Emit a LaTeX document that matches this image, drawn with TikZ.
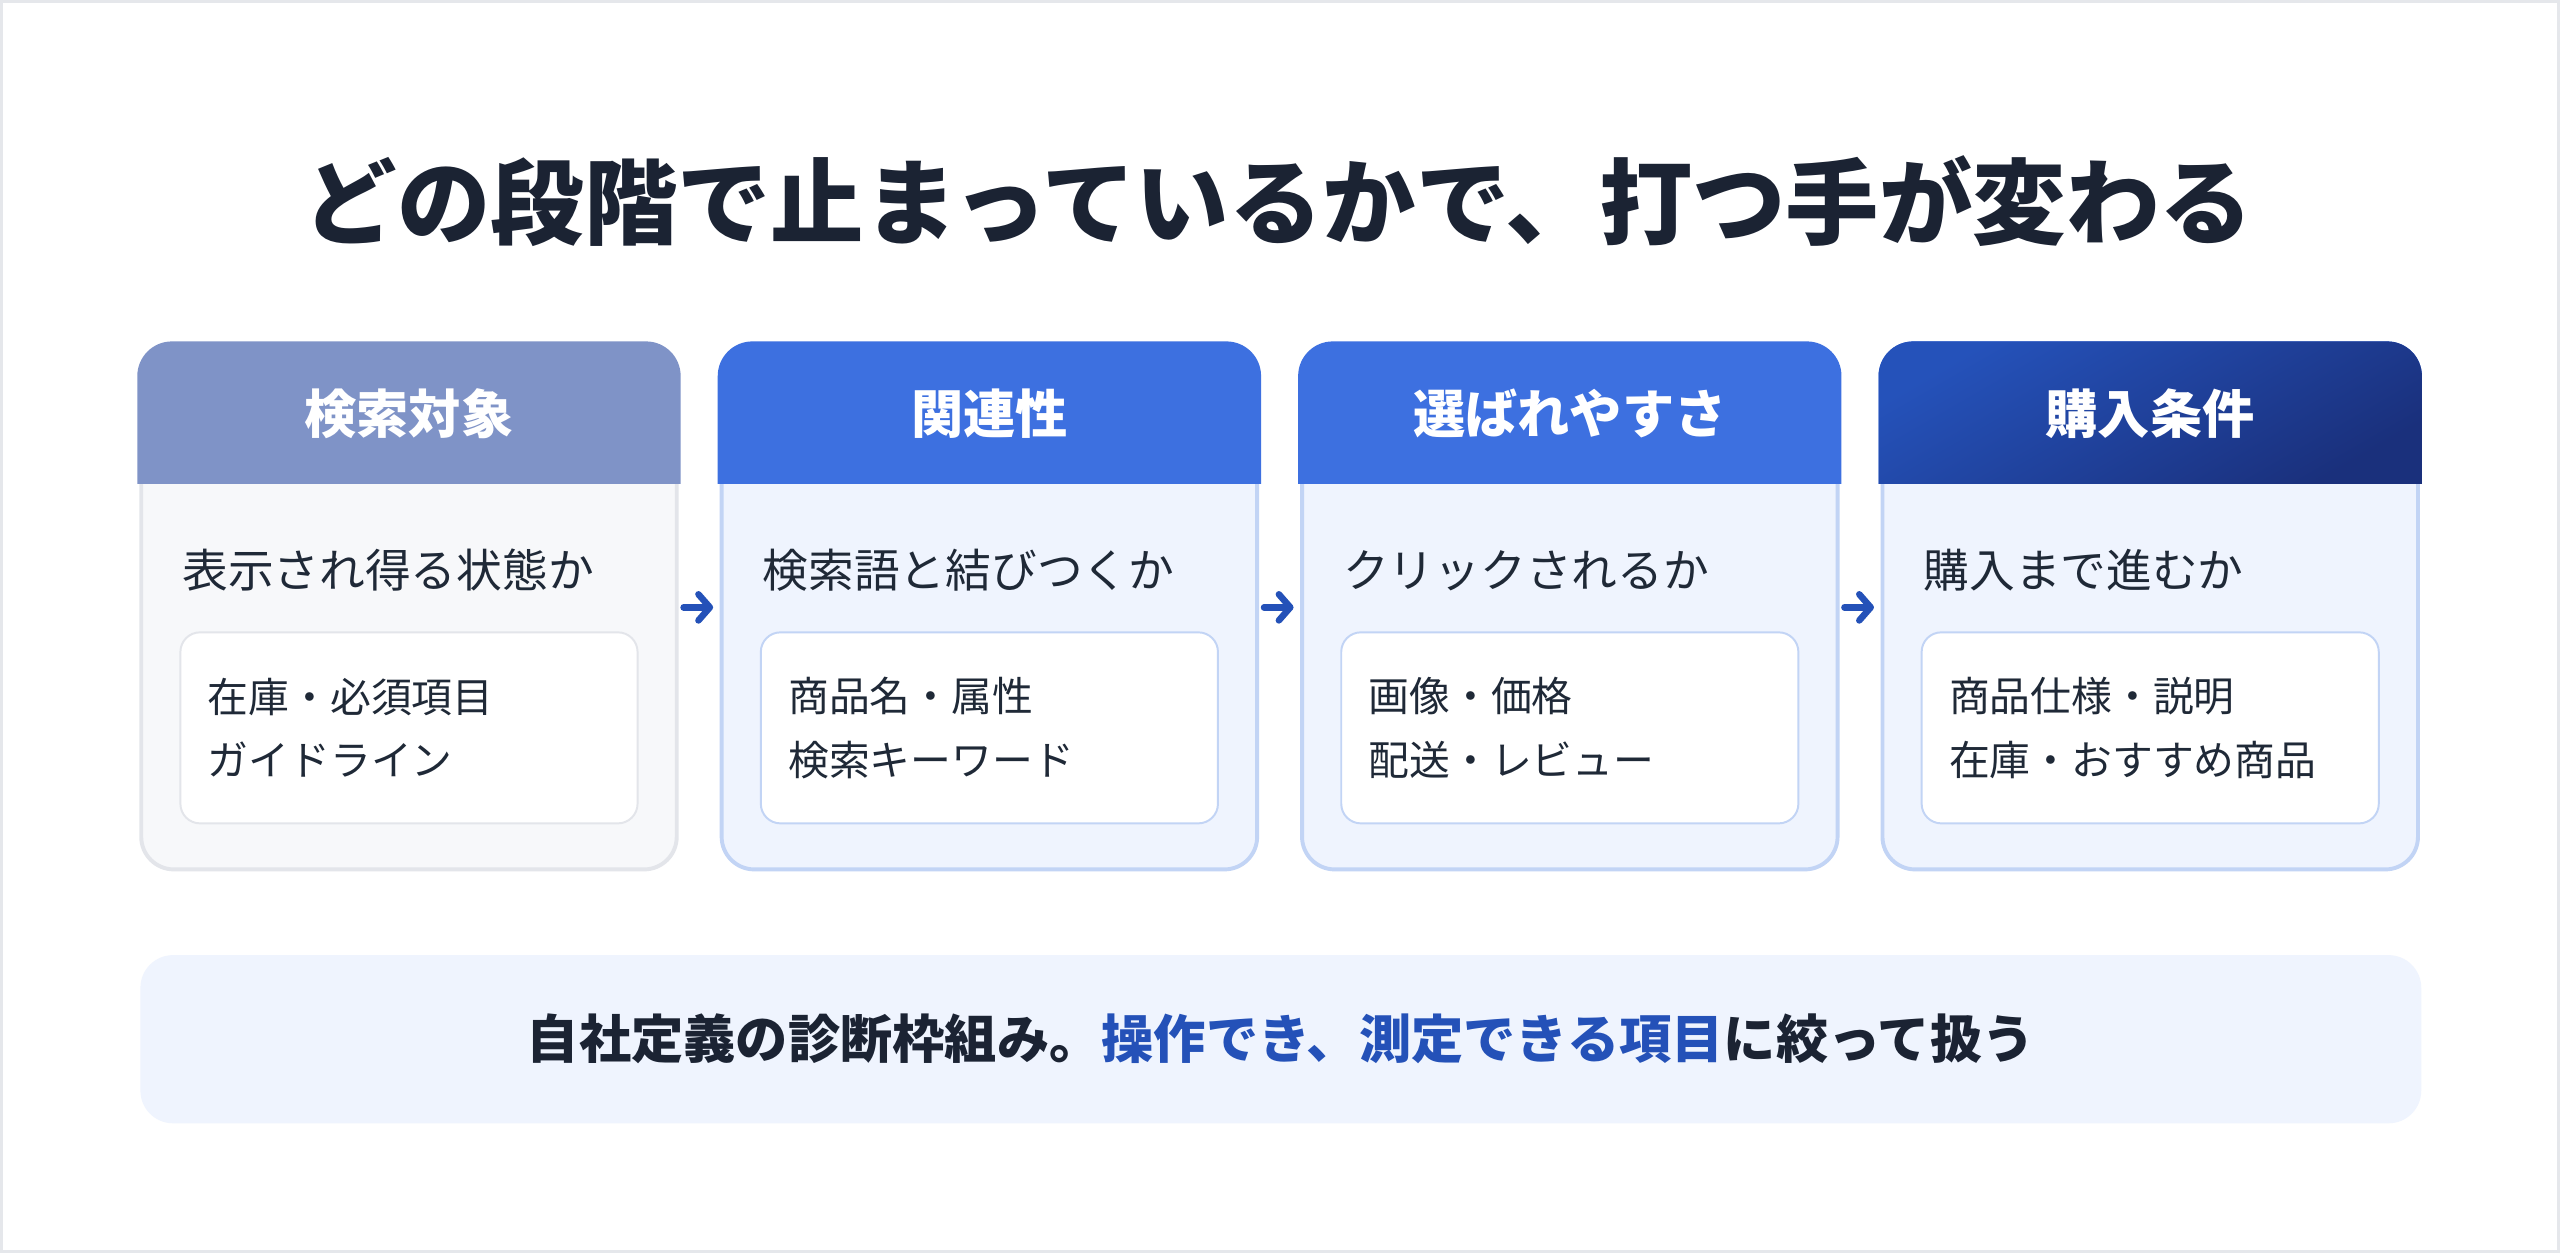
\documentclass[tikz,border=0pt]{standalone}
\usepackage{fontspec}
\setmainfont{Noto Sans CJK JP}
\usetikzlibrary{positioning,arrows.meta}
\definecolor{ink}{HTML}{1B2333}
\definecolor{bodytext}{HTML}{1F2937}
\definecolor{accent}{HTML}{2451B8}
\definecolor{grayhead}{HTML}{7F93C7}
\definecolor{bluehead}{HTML}{3D70E0}
\definecolor{navyA}{HTML}{2552BA}
\definecolor{navyB}{HTML}{1A307C}
\definecolor{graybody}{HTML}{F7F8FA}
\definecolor{grayline}{HTML}{E3E5EA}
\definecolor{bluebody}{HTML}{EFF4FE}
\definecolor{blueline}{HTML}{C2D4F5}
\definecolor{frame}{HTML}{E5E7EB}
\begin{document}
\begin{tikzpicture}[x=0.5pt, y=-0.5pt,
    card/.style={rectangle, line width=1.2pt, rounded corners=10pt, minimum width=164pt, minimum height=160.5pt, inner sep=0pt},
    inbox/.style={rectangle, fill=white, line width=0.6pt, rounded corners=6pt, minimum width=140pt, minimum height=58.5pt, inner sep=0pt},
    headtext/.style={text=white, font=\fontsize{16}{19}\selectfont\bfseries},
    asktext/.style={text=bodytext, font=\fontsize{14}{17}\selectfont, anchor=west, inner sep=0pt},
    itemtext/.style={text=bodytext, font=\fontsize{12.5}{19.5}\selectfont, align=left, anchor=west, inner sep=0pt},
    flow/.style={accent, line width=2pt, line cap=round, -{Straight Barb[round, length=3.5pt, width=8pt]}, shorten <=1.5pt, shorten >=2pt}]

    \path[use as bounding box, fill=white] (0,0) rectangle (1568,767.5);
    \draw[frame, line width=0.8pt] (0.8,0.8) rectangle (1567.2,766.7);

    \node[text=ink, font=\fontsize{28.6}{34}\selectfont\bfseries] (title) at (783,123) {どの段階で止まっているかで、打つ手が変わる};

    \foreach \i/\hc/\bd/\lc/\hdr/\qst/\lna/\lnb in {
        1/grayhead/graybody/grayline/検索対象/表示され得る状態か/在庫・必須項目/ガイドライン,
        2/bluehead/bluebody/blueline/関連性/検索語と結びつくか/商品名・属性/検索キーワード,
        3/bluehead/bluebody/blueline/選ばれやすさ/クリックされるか/画像・価格/配送・レビュー,
        4/bluehead/bluebody/blueline/購入条件/購入まで進むか/商品仕様・説明/在庫・おすすめ商品}
        {
            \node[card, draw=\lc, fill=\bd] (c\i) at (250.5+355.5*\i-355.5, 372) {};
            \fill[\hc] ([shift={(-0.6pt,-43pt)}]c\i.north west) [rounded corners=10.6pt]
                -- ([shift={(-0.6pt,0.6pt)}]c\i.north west) -- ([shift={(0.6pt,0.6pt)}]c\i.north east) [sharp corners]
                -- ([shift={(0.6pt,-43pt)}]c\i.north east) -- cycle;
            \node[headtext] (h\i) at ([yshift=-21.5pt]c\i.north) {\hdr};
            \node[asktext] (q\i) at ([shift={(13pt,-69.5pt)}]c\i.north west) {\qst};
            \node[inbox, draw=\lc] (b\i) at ([yshift=-117.75pt]c\i.north) {};
            \node[itemtext] (t\i) at ([xshift=8.5pt]b\i.west) {\lna\\\lnb};
        }

    % last header is shaded
    \shade[top color=navyA, bottom color=navyB, shading angle=30] ([shift={(-0.6pt,-43pt)}]c4.north west) [rounded corners=10.6pt]
        -- ([shift={(-0.6pt,0.6pt)}]c4.north west) -- ([shift={(0.6pt,0.6pt)}]c4.north east) [sharp corners]
        -- ([shift={(0.6pt,-43pt)}]c4.north east) -- cycle;
    \node[headtext] at (h4) {購入条件};

    \draw[flow] (c1.east) -- (c2.west);
    \draw[flow] (c2.east) -- (c3.west);
    \draw[flow] (c3.east) -- (c4.west);

    \node[rectangle, fill=bluebody, rounded corners=10pt, minimum width=698.5pt, minimum height=51.5pt,
        text=ink, font=\fontsize{16}{19}\selectfont\bfseries] (note) at (784.5,636.5)
        {自社定義の診断枠組み。\textcolor{accent}{操作でき、測定できる項目}に絞って扱う};
\end{tikzpicture}
\end{document}
